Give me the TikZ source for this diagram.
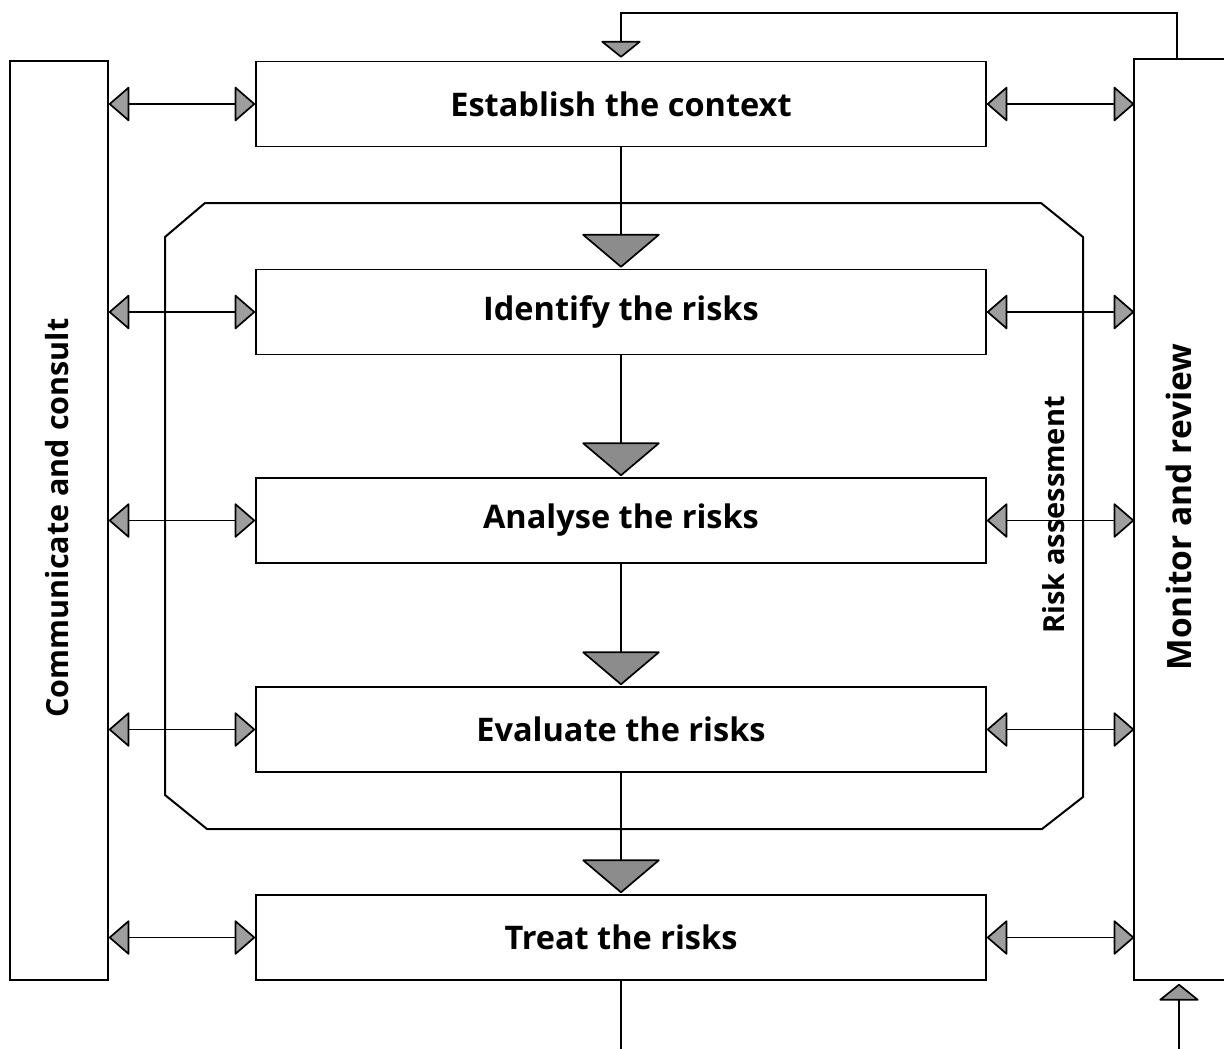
\documentclass[tikz,border=0pt]{standalone}
\usepackage{fontspec}
\setmainfont{Open Sans}
\usetikzlibrary{arrows.meta,calc}
\begin{document}
\begin{tikzpicture}[x=1pt,y=-1pt,line width=1.7pt,
  txt/.style={font=\fontsize{32.5}{36}\selectfont\bfseries},
  stagebox/.style={draw,rectangle,minimum width=730pt,minimum height=85pt,inner sep=0pt,txt},
  sidebox/.style={rectangle,inner sep=0pt,txt},
  dbl/.style={arrows={Triangle[length=21pt,width=36pt,fill=black!38,round]-Triangle[length=21pt,width=36pt,fill=black!38,round]}},
  bigtip/.style={arrows={-Triangle[length=34pt,width=80pt,fill=black!45,round]},shorten >=1pt},
  smalltip/.style={arrows={-Triangle[length=17pt,width=42pt,fill=black!40,round]}}
]
\useasboundingbox (0,0) rectangle (1224,1049);

% side boxes
\node[sidebox,draw,minimum width=98pt,minimum height=919pt] (cc) at (59,520.5) {};
\node[sidebox,rotate=90,font=\fontsize{30.5}{34}\selectfont\bfseries] at (57,518) {Communicate and consult};
\node[sidebox,minimum width=89pt,minimum height=919pt] (mr) at (1179.5,519.5) {};
\draw (mr.north east) -- (mr.north west) -- (mr.south west) -- (mr.south east);
\node[sidebox,rotate=90,font=\fontsize{33.5}{37}\selectfont\bfseries] at (1179,507) {Monitor and review};

% risk assessment frame
\draw[line width=2pt] (205,203) -- (1041,203) -- (1083,237) -- (1083,797) -- (1042,829)
  -- (207,829) -- (165,795) -- (165,237) -- cycle;
\node[sidebox,rotate=90,font=\fontsize{29}{32}\selectfont\bfseries] (ra) at (1054,515) {Risk assessment};

% stages
\node[stagebox] (est) at (621,104)   {Establish the context};
\node[stagebox] (idn) at (621,312)   {Identify the risks};
\node[stagebox] (ana) at (621,520.5) {Analyse the risks};
\node[stagebox] (eva) at (621,729.5) {Evaluate the risks};
\node[stagebox] (trt) at (621,937.5) {Treat the risks};

% flow
\draw[bigtip] (est.south) -- (idn.north);
\draw[bigtip] (idn.south) -- (ana.north);
\draw[bigtip] (ana.south) -- (eva.north);
\draw[bigtip] (eva.south) -- (trt.north);
\coordinate (out) at (621,1049);
\draw (trt.south) -- (out);

% communicate / monitor links
\foreach \s in {est,idn,ana,eva,trt}{
  \draw[dbl] (cc.east |- \s.west) -- (\s.west);
  \draw[dbl] (\s.east) -- (mr.west |- \s.east);
}

% feedback loop
\coordinate (fbstart) at (1177,60);
\coordinate (fbtop) at (1177,13);
\coordinate (fbleft) at (621,13);
\draw[smalltip,shorten >=3pt] (fbstart) -- (fbtop) -- (fbleft) -- (est.north);
\coordinate (inb) at (1179,1049);
\draw[smalltip,shorten >=4pt] (inb) -- (inb |- mr.south);
\end{tikzpicture}
\end{document}
